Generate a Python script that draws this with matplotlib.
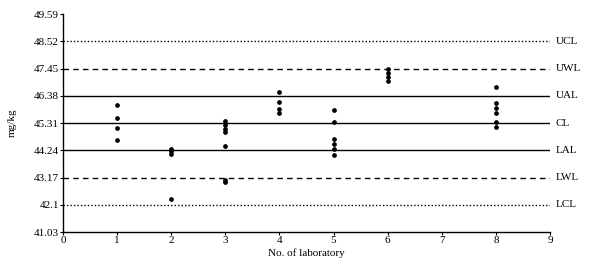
#!/usr/bin/env python3
"""
Control chart of laboratory results (mg/kg) with action/warning/control limits.
"""

import matplotlib
matplotlib.use("Agg")
import matplotlib.pyplot as plt

# Limit lines
LIMIT_NAMES = ["UCL", "UWL", "UAL", "CL", "LAL", "LWL", "LCL"]
LIMIT_VALUES = [48.52, 47.45, 46.38, 45.31, 44.24, 43.17, 42.1]
LIMIT_STYLES = [":", "--", "-", "-", "-", "--", ":"]

# Y tick labels as printed
Y_TICKS = [41.03, 42.1, 43.17, 44.24, 45.31, 46.38, 47.45, 48.52, 49.59]
Y_TICK_LABELS = ["41.03", "42.1", "43.17", "44.24", "45.31", "46.38", "47.45", "48.52", "49.59"]

# Results per laboratory
lab_1 = [46.00, 45.51, 45.11, 44.66]
lab_2 = [44.30, 44.20, 44.10, 42.33]
lab_3 = [45.37, 45.22, 45.09, 44.96, 44.39, 43.08, 42.98]
lab_4 = [46.53, 46.15, 45.85, 45.72]
lab_5 = [45.84, 45.36, 44.70, 44.50, 44.30, 44.05]
lab_6 = [47.45, 47.28, 47.10, 46.95]
lab_8 = [46.72, 46.09, 45.90, 45.71, 45.33, 45.16]
LABS = [1, 2, 3, 4, 5, 6, 8]
RESULTS = [lab_1, lab_2, lab_3, lab_4, lab_5, lab_6, lab_8]

plt.rcParams["font.family"] = ["Liberation Serif", "DejaVu Serif"]

fig = plt.figure(figsize=(5.91, 2.64), dpi=100)
ax = fig.add_axes([63 / 591, 32 / 264, (550 - 63) / 591, (250 - 32) / 264])

# limit lines with labels at the right
for name, val, ls in zip(LIMIT_NAMES, LIMIT_VALUES, LIMIT_STYLES):
    ax.axhline(val, color="black", linestyle=ls, linewidth=1.0,
               dashes=(4, 3) if ls == "--" else ((1, 1.5) if ls == ":" else (None, None)))
    ax.text(9.1, val, name, va="center", ha="left", fontsize=8)

# data points
for lab, vals in zip(LABS, RESULTS):
    ax.plot([lab] * len(vals), vals, "o", color="black", markersize=2.4)

ax.set_xlim(0, 9)
ax.set_ylim(41.03, 49.59)
ax.set_xticks(range(10))
ax.set_yticks(Y_TICKS)
ax.set_yticklabels(Y_TICK_LABELS)
ax.tick_params(labelsize=8, length=2, width=0.8, pad=1)

for side in ["top", "right"]:
    ax.spines[side].set_visible(False)
for side in ["left", "bottom"]:
    ax.spines[side].set_linewidth(1.0)

ax.set_xlabel("No. of laboratory", fontsize=8, labelpad=2)
ax.set_ylabel("mg/kg", fontsize=8, labelpad=12)

fig.savefig("out.png", dpi=100)
